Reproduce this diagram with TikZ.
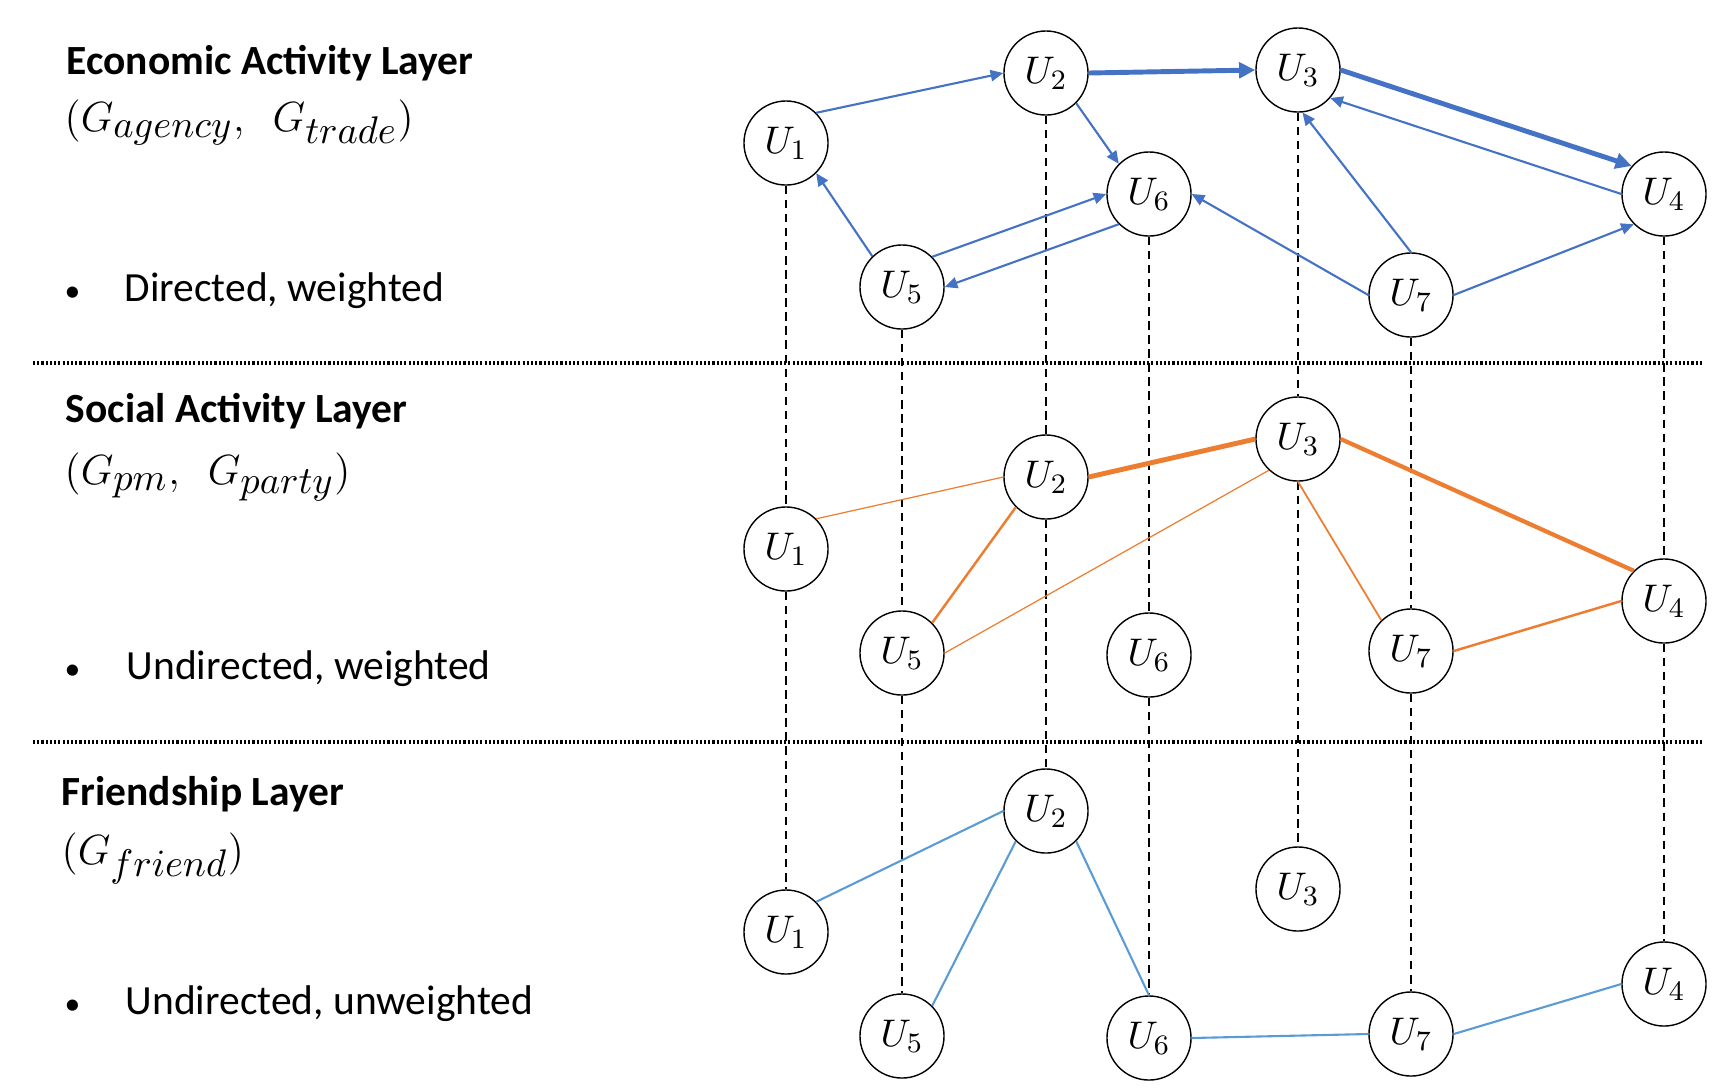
\documentclass[tikz,border=0pt]{standalone}
\usepackage{fontspec}
\setmainfont{Carlito}
\usetikzlibrary{arrows.meta}
\DeclareMathSizes{13.2}{13.2}{10.8}{8}
\definecolor{econblue}{RGB}{68,114,196}
\definecolor{socialorange}{RGB}{237,125,49}
\definecolor{friendblue}{RGB}{91,155,213}

\begin{document}
\begin{tikzpicture}[x=0.01cm,y=-0.01cm,
  user/.style={circle,draw,fill=white,minimum size=0.84cm,inner sep=0pt,line width=0.4pt,font=\fontsize{11}{13}\selectfont},
  txt/.style={anchor=base west,inner sep=0pt,font=\fontsize{11.8}{14}\selectfont},
  mathtxt/.style={anchor=base west,inner sep=0pt,font=\fontsize{13.2}{15}\selectfont},
  vlink/.style={dash pattern=on 2.4pt off 1.6pt,line width=0.4pt},
  sep/.style={line width=0.9pt,dash pattern=on 0.6pt off 0.6pt},
  econ/.style={econblue,line width=0.6pt,-{Triangle[length=3.6pt,width=3.2pt]}},
  econthick/.style={econblue,line width=1.4pt,-{Triangle[length=4.6pt,width=4.4pt]}},
  soc/.style={socialorange},
  fri/.style={friendblue,line width=0.6pt}]

\useasboundingbox (0,0) rectangle (1733,1090);

% Layer separators
\draw[sep] (33,363) -- (1704,363);
\draw[sep] (33,742) -- (1704,742);

% === Layer texts ===
\node[txt] (econtitle) at (66,74) {\bfseries Economic Activity Layer};
\node[mathtxt] (econgraph) at (64,131) {$(G_{agency},\ \ G_{trade})$};
\node[txt] (econkind) at (64,301) {\makebox[0.60cm][l]{\small•}Directed, weighted};

\node[txt] (soctitle) at (65,422) {\bfseries Social Activity Layer};
\node[mathtxt] (socgraph) at (64,484) {$(G_{pm},\ \ G_{party})$};
\node[txt] (sockind) at (64,679) {\makebox[0.62cm][l]{\small•}Undirected, weighted};

\node[txt] (fritile) at (61,805) {\bfseries Friendship Layer};
\node[mathtxt] (frigraph) at (61,864) {$(G_{friend})$};
\node[txt] (frikind) at (64,1014) {\makebox[0.61cm][l]{\small•}Undirected, unweighted};

% === Users in the three layers ===
\foreach \i/\x/\y in {1/786/143,2/1046/73,3/1298/70,4/1664/194,5/902/287,6/1149/194,7/1411/295}
    \node[user] (e\i) at (\x,\y) {$U_{\i}$};
\foreach \i/\x/\y in {1/786/549,2/1046/477,3/1298/439,4/1664/601,5/902/653,6/1149/655,7/1411/651}
    \node[user] (s\i) at (\x,\y) {$U_{\i}$};
\foreach \i/\x/\y in {1/786/932,2/1046/811,3/1298/889,4/1664/984,5/902/1036,6/1149/1038,7/1411/1034}
    \node[user] (f\i) at (\x,\y) {$U_{\i}$};

% Same user across layers
\foreach \i in {1,...,7} {
    \draw[vlink] (e\i) -- (s\i);
    \draw[vlink] (s\i) -- (f\i);
}

% === Economic layer: directed, weighted ===
\draw[econ] (e1.45) -- (e2.180);
\draw[econthick] (e2.0) -- (e3.180);
\draw[econ] (e2.-45) -- (e6.135);
\draw[econthick] (e3.0) -- (e4.139);
\draw[econ] (e4.180) -- (e3.-41);
\draw[econ] (e5.134) -- (e1.-45);
\draw[econ] (e5.45) -- (e6.180);
\draw[econ] (e6.225) -- (e5.0);
\draw[econ] (e7.180) -- (e6.0);
\draw[econ] (e7.90) -- (e3.-84);
\draw[econ] (e7.0) -- (e4.225);

% === Social layer: undirected, weighted ===
\foreach \a/\b/\w in {s1.45/s2.180/0.35,s2.0/s3.180/1.4,s2.225/s5.45/0.7,s3.227/s5.0/0.35,s3.0/s4.135/1.2,s3.270/s7.134/0.5,s7.0/s4.180/0.7}
    \draw[soc,line width=\w pt] (\a) -- (\b);

% === Friendship layer: undirected, unweighted ===
\draw[fri] (f1.45) -- (f2.180);
\draw[fri] (f2.225) -- (f5.45);
\draw[fri] (f2.-45) -- (f6.90);
\draw[fri] (f6.0) -- (f7.180);
\draw[fri] (f7.0) -- (f4.180);

\end{tikzpicture}
\end{document}
